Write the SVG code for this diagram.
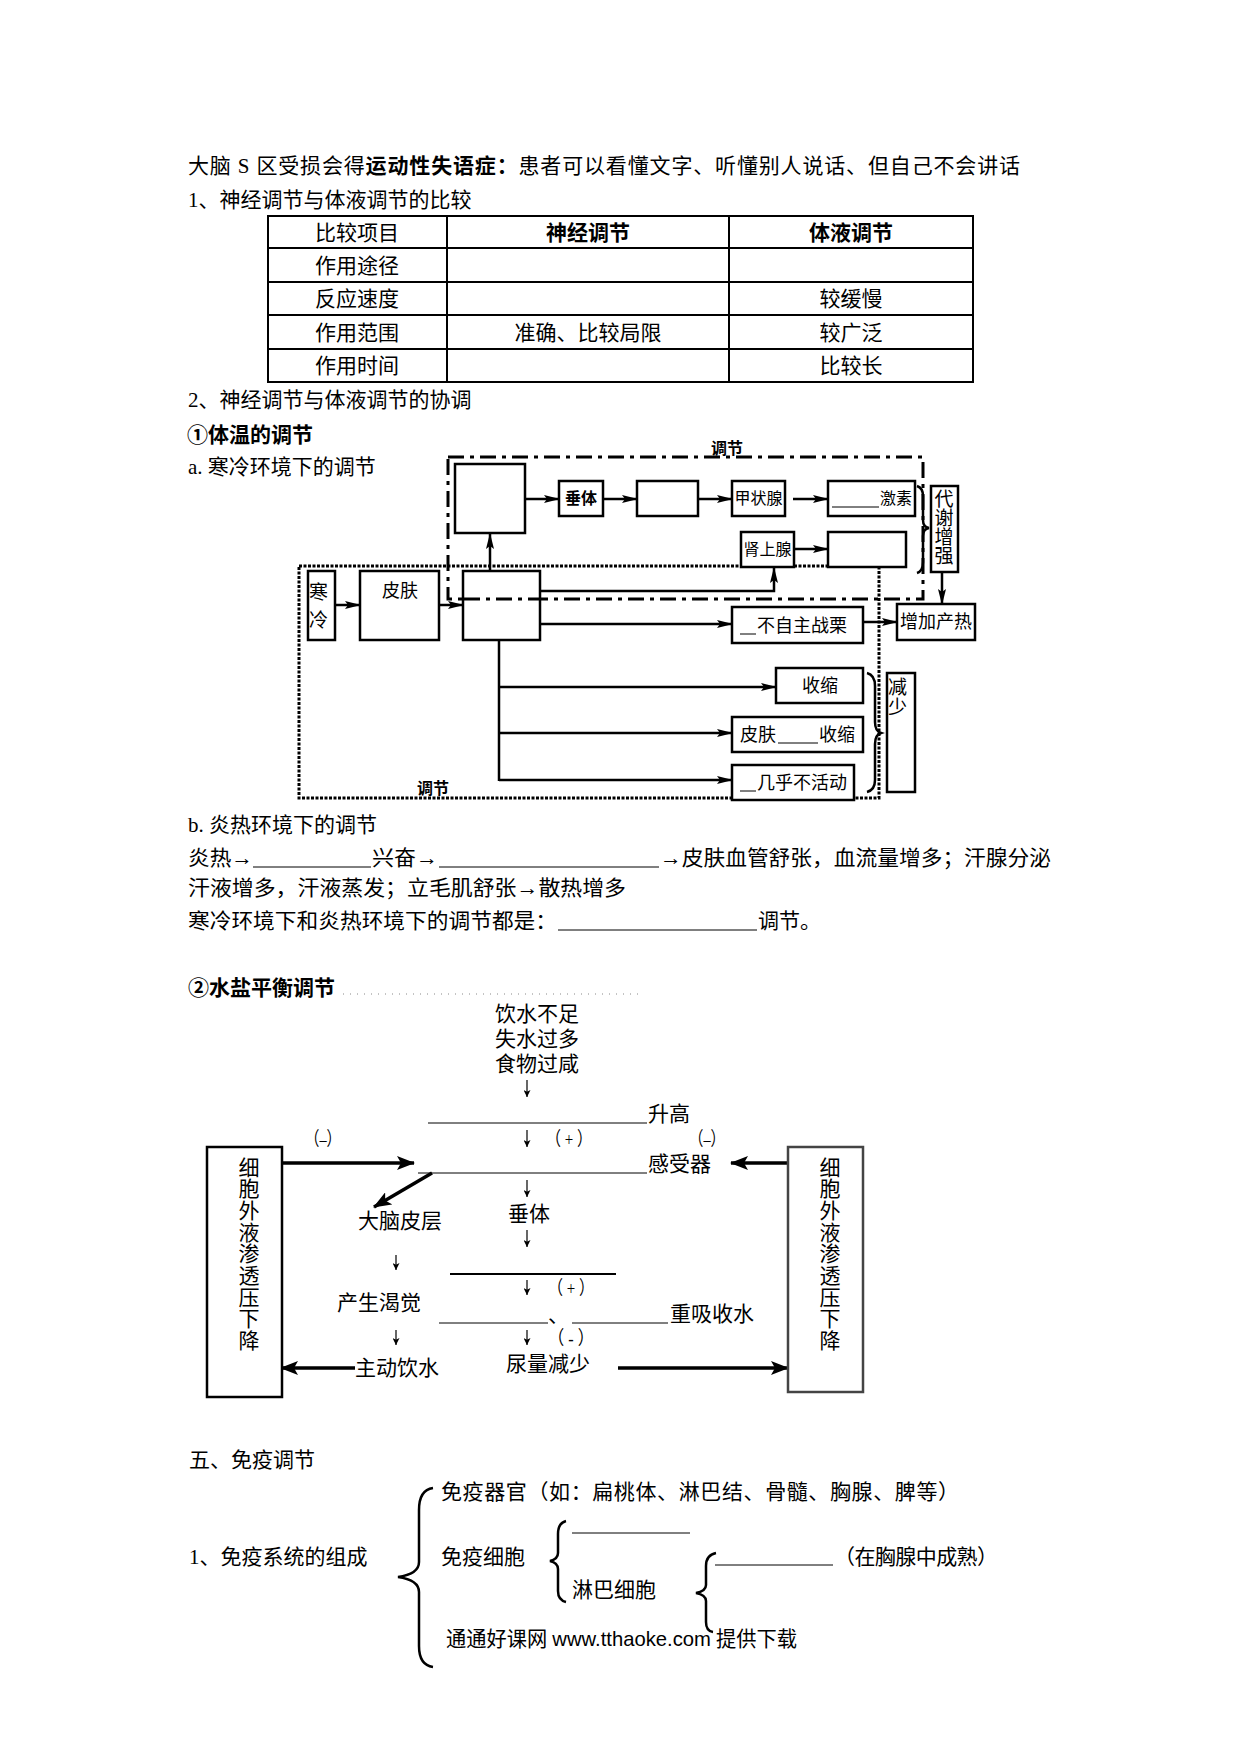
<svg xmlns="http://www.w3.org/2000/svg" width="1240" height="1754" viewBox="0 0 1240 1754">
<style>
text{font-family:"Liberation Serif","Noto Sans CJK SC",serif;font-size:21px;fill:#000}
.b{font-weight:bold}
.s16{font-size:16px}
.s18{font-size:18px}
.s19{font-size:19px}
.sg{font-size:19px}
.mid{text-anchor:middle}
.box{fill:#fff;stroke:#000;stroke-width:2.5}
.tbl{fill:none;stroke:#000;stroke-width:2}
.ln{fill:none;stroke:#000;stroke-width:2.5}
.thin{fill:none;stroke:#000;stroke-width:1}
.ar{fill:none;stroke:#000;stroke-width:2.5;marker-end:url(#ah)}
.arw{fill:none;stroke:#000;stroke-width:3.5;marker-end:url(#ab)}
.sm{fill:none;stroke:#000;stroke-width:1.2;marker-end:url(#sa)}
.brace{fill:none;stroke:#000;stroke-width:2.5}
.sans{font-family:"Liberation Sans","Noto Sans CJK SC",sans-serif}
</style>
<defs>
<marker id="ah" viewBox="0 0 16 10" refX="15" refY="5" markerWidth="16" markerHeight="10" markerUnits="userSpaceOnUse" orient="auto"><path d="M0,1 L16,5 L0,9 L3,5 z" fill="#000"/></marker>
<marker id="ab" viewBox="0 0 18 14" refX="17" refY="7" markerWidth="18" markerHeight="14" markerUnits="userSpaceOnUse" orient="auto"><path d="M0,0 L18,7 L0,14 L4,7 z" fill="#000"/></marker>
<marker id="sa" viewBox="0 0 8 8" refX="8" refY="4" markerWidth="8" markerHeight="7" markerUnits="userSpaceOnUse" orient="auto"><path d="M0,0 L8,4 L0,8 L2,4 z" fill="#000"/></marker>
</defs>
<rect width="1240" height="1754" fill="#fff"/>

<!-- header text -->
<g id="intro">
<text x="188" y="173" textLength="832" lengthAdjust="spacing">大脑 S 区受损会得<tspan class="b">运动性失语症：</tspan>患者可以看懂文字、听懂别人说话、但自己不会讲话</text>
<text x="188" y="207">1、神经调节与体液调节的比较</text>
</g>

<!-- comparison table -->
<g id="table">
<rect class="tbl" x="268" y="216" width="705" height="166"/>
<path class="tbl" d="M268,248H973M268,282H973M268,315H973M268,349H973M447,216V382M729,216V382"/>
<text class="mid" x="357" y="240">比较项目</text>
<text class="mid b" x="588" y="240">神经调节</text>
<text class="mid b" x="851" y="240">体液调节</text>
<text class="mid" x="357" y="273">作用途径</text>
<text class="mid" x="357" y="306">反应速度</text>
<text class="mid" x="851" y="306">较缓慢</text>
<text class="mid" x="357" y="340">作用范围</text>
<text class="mid" x="588" y="340">准确、比较局限</text>
<text class="mid" x="851" y="340">较广泛</text>
<text class="mid" x="357" y="373">作用时间</text>
<text class="mid" x="851" y="373">比较长</text>
</g>

<g id="section2">
<text x="188" y="407">2、神经调节与体液调节的协调</text>
<text class="b" x="187" y="442">①体温的调节</text>
<text x="188" y="474">a. 寒冷环境下的调节</text>
</g>

<!-- cold regulation: regions -->
<g id="regions">
<rect x="299" y="566" width="580" height="232" fill="none" stroke="#000" stroke-width="3" stroke-dasharray="3 1.5"/>
<rect x="448" y="457" width="475" height="142" fill="none" stroke="#000" stroke-width="3" stroke-dasharray="16 6 4 6"/>
<text class="b s16 mid" x="727" y="454">调节</text>
<text class="b s16 mid" x="433" y="794">调节</text>
</g>

<!-- cold regulation connectors -->
<g id="connectors-cold">
<line class="ar" x1="525" y1="499" x2="559" y2="499"/>
<line class="ar" x1="603" y1="499" x2="637" y2="499"/>
<line class="ar" x1="698" y1="499" x2="732" y2="499"/>
<line class="ar" x1="793" y1="499" x2="828" y2="499"/>
<line class="ar" x1="942" y1="572" x2="942" y2="604"/>
<line class="ar" x1="794" y1="549" x2="828" y2="549"/>
<line class="ar" x1="490" y1="571" x2="490" y2="534"/>
<line class="ar" x1="335" y1="605" x2="360" y2="605"/>
<line class="ar" x1="439" y1="605" x2="463" y2="605"/>
<polyline class="ar" points="540,591 774,591 774,568"/>
<line class="ar" x1="540" y1="624" x2="732" y2="624"/>
<line class="ar" x1="863" y1="622" x2="897" y2="622"/>
<line class="ln" x1="499" y1="640" x2="499" y2="781"/>
<line class="ar" x1="499" y1="687" x2="776" y2="687"/>
<line class="ar" x1="499" y1="733" x2="732" y2="733"/>
<line class="ar" x1="499" y1="780" x2="732" y2="780"/>
<path class="brace" d="M917,486 Q923,488 923,496 L923,520 Q923,527 929,528 Q923,529 923,536 L923,562 Q923,571 917,573"/>
<path class="brace" d="M867,673 Q875,675 875,686 L875,722 Q875,731 881,733 Q875,735 875,744 L875,780 Q875,790 867,792"/>
</g>

<!-- cold regulation nodes -->
<g id="boxA"><rect class="box" x="455" y="464" width="70" height="69"/></g>
<g id="chuiti"><rect class="box" x="559" y="481" width="44" height="35"/><text class="b s16 mid" x="581" y="504">垂体</text></g>
<g id="boxB"><rect class="box" x="637" y="481" width="61" height="35"/></g>
<g id="jiazhuangxian"><rect class="box" x="732" y="481" width="53" height="35"/><text class="s16 mid" x="758.5" y="504">甲状腺</text></g>
<g id="jisu"><rect class="box" x="828" y="481" width="87" height="35"/><line class="thin" x1="832" y1="507" x2="879" y2="507"/><text class="s16" x="880" y="504">激素</text></g>
<g id="shenshangxian"><rect class="box" x="741" y="532" width="53" height="35"/><text class="s16 mid" x="767.5" y="555">肾上腺</text></g>
<g id="boxD"><rect class="box" x="828" y="532" width="78" height="35"/></g>
<g id="daixie"><rect class="box" x="931" y="486" width="27" height="86"/><text class="s19 mid"><tspan x="944" y="506">代</tspan><tspan x="944" y="525">谢</tspan><tspan x="944" y="544">增</tspan><tspan x="944" y="563">强</tspan></text></g>
<g id="chanre"><rect class="box" x="897" y="604" width="78" height="36"/><text class="s18 mid" x="936" y="628">增加产热</text></g>
<g id="hanleng"><rect class="box" x="308" y="571" width="27" height="69"/><text class="s19"><tspan x="309" y="599">寒</tspan><tspan x="309" y="627">冷</tspan></text></g>
<g id="pifu"><rect class="box" x="360" y="571" width="79" height="69"/><text class="s18 mid" x="400" y="597">皮肤</text></g>
<g id="boxC"><rect class="box" x="463" y="571" width="77" height="69"/><line x1="464" y1="599" x2="539" y2="599" stroke="#000" stroke-width="3" stroke-dasharray="16 6 4 6"/></g>
<g id="zhanli"><rect class="box" x="732" y="607" width="131" height="36"/><line class="thin" x1="740" y1="634" x2="756" y2="634"/><text class="s18" x="757" y="632">不自主战栗</text></g>
<g id="shousuo"><rect class="box" x="776" y="668" width="87" height="35"/><text class="s18" x="802" y="692">收缩</text></g>
<g id="pifushousuo"><rect class="box" x="732" y="717" width="131" height="35"/><text class="s18" x="740" y="741">皮肤</text><line class="thin" x1="778" y1="743" x2="818" y2="743"/><text class="s18" x="819" y="741">收缩</text></g>
<g id="huodong"><rect class="box" x="732" y="765" width="122" height="35"/><line class="thin" x1="740" y1="791" x2="756" y2="791"/><text class="s18" x="757" y="789">几乎不活动</text></g>
<g id="jianshao"><rect class="box" x="887" y="673" width="28" height="119"/><text class="s19"><tspan x="888" y="694">减</tspan><tspan x="888" y="714">少</tspan></text></g>

<!-- hot environment -->
<g id="hot">
<text x="188" y="832">b. 炎热环境下的调节</text>
<text x="188" y="865" textLength="65" lengthAdjust="spacingAndGlyphs">炎热→</text>
<line class="thin" x1="253" y1="867" x2="371" y2="867"/>
<text x="372" y="865" textLength="66" lengthAdjust="spacingAndGlyphs">兴奋→</text>
<line class="thin" x1="439" y1="867" x2="659" y2="867"/>
<text x="660" y="865" textLength="391" lengthAdjust="spacingAndGlyphs">→皮肤血管舒张，血流量增多；汗腺分泌</text>
<text x="188" y="895" textLength="438" lengthAdjust="spacingAndGlyphs">汗液增多，汗液蒸发；立毛肌舒张→散热增多</text>
<text x="188" y="928" textLength="369" lengthAdjust="spacingAndGlyphs">寒冷环境下和炎热环境下的调节都是：</text>
<line class="thin" x1="558" y1="930" x2="757" y2="930"/>
<text x="758" y="928">调节。</text>
</g>

<g id="water-title">
<text class="b" x="188" y="995">②水盐平衡调节</text>
<line x1="343" y1="994" x2="640" y2="994" stroke="#888" stroke-width="1" stroke-dasharray="1 6"/>
</g>

<!-- water balance connectors -->
<g id="connectors-water">
<line class="sm" x1="527" y1="1080" x2="527" y2="1097"/>
<line class="thin" x1="428" y1="1123" x2="647" y2="1123"/>
<line class="sm" x1="527" y1="1130" x2="527" y2="1147"/>
<line class="thin" x1="418" y1="1173" x2="647" y2="1173"/>
<line class="arw" x1="282" y1="1163" x2="414" y2="1163"/>
<line class="arw" x1="787" y1="1163" x2="731" y2="1163"/>
<line class="arw" x1="432" y1="1173" x2="374" y2="1207"/>
<line class="sm" x1="527" y1="1180" x2="527" y2="1197"/>
<line class="sm" x1="527" y1="1230" x2="527" y2="1247"/>
<line class="sm" x1="396" y1="1255" x2="396" y2="1270"/>
<line x1="450" y1="1274" x2="616" y2="1274" stroke="#000" stroke-width="2"/>
<line class="sm" x1="527" y1="1280" x2="527" y2="1295"/>
<line class="thin" x1="439" y1="1323" x2="548" y2="1323"/>
<line class="thin" x1="572" y1="1323" x2="668" y2="1323"/>
<line class="sm" x1="396" y1="1330" x2="396" y2="1345"/>
<line class="sm" x1="527" y1="1330" x2="527" y2="1345"/>
<line class="arw" x1="355" y1="1368" x2="281" y2="1368"/>
<line class="arw" x1="618" y1="1368" x2="788" y2="1368"/>
</g>

<!-- water balance nodes -->
<g id="causes">
<text x="495" y="1021">饮水不足</text>
<text x="495" y="1046">失水过多</text>
<text x="495" y="1071">食物过咸</text>
</g>
<g id="shenggao"><text x="648" y="1121">升高</text></g>
<g id="signs">
<text class="sg" x="305" y="1146" textLength="36" lengthAdjust="spacingAndGlyphs">（–）</text>
<text class="sg" x="546" y="1146" textLength="46" lengthAdjust="spacingAndGlyphs">（ + ）</text>
<text class="sg" x="689" y="1146" textLength="36" lengthAdjust="spacingAndGlyphs">（–）</text>
<text class="sg" x="548" y="1295" textLength="46" lengthAdjust="spacingAndGlyphs">（ + ）</text>
<text class="sg" x="548" y="1345" textLength="46" lengthAdjust="spacingAndGlyphs">（ - ）</text>
</g>
<g id="ganshouqi"><text x="648" y="1171">感受器</text></g>
<g id="danaopiceng"><text x="358" y="1228">大脑皮层</text></g>
<g id="chuiti2"><text x="508" y="1221">垂体</text></g>
<g id="kejue"><text x="337" y="1310">产生渴觉</text></g>
<g id="chongxishou"><text x="548" y="1322">、</text><text x="670" y="1321">重吸收水</text></g>
<g id="yinshui"><text x="355" y="1375">主动饮水</text></g>
<g id="niaoliang"><text x="506" y="1371">尿量减少</text></g>
<g id="leftbox">
<rect x="207" y="1147" width="75" height="250" fill="#fff" stroke="#000" stroke-width="2.5"/>
<text class="mid"><tspan x="249" y="1175">细</tspan><tspan x="249" y="1196">胞</tspan><tspan x="249" y="1218">外</tspan><tspan x="249" y="1240">液</tspan><tspan x="249" y="1261">渗</tspan><tspan x="249" y="1283">透</tspan><tspan x="249" y="1305">压</tspan><tspan x="249" y="1326">下</tspan><tspan x="249" y="1348">降</tspan></text>
</g>
<g id="rightbox">
<rect x="788" y="1147" width="75" height="245" fill="#fff" stroke="#444" stroke-width="2.5"/>
<text class="mid"><tspan x="830" y="1175">细</tspan><tspan x="830" y="1196">胞</tspan><tspan x="830" y="1218">外</tspan><tspan x="830" y="1240">液</tspan><tspan x="830" y="1261">渗</tspan><tspan x="830" y="1283">透</tspan><tspan x="830" y="1305">压</tspan><tspan x="830" y="1326">下</tspan><tspan x="830" y="1348">降</tspan></text>
</g>

<!-- immunity -->
<g id="immunity">
<text x="189" y="1467">五、免疫调节</text>
<text x="189" y="1564">1、免疫系统的组成</text>
<path class="brace" d="M433,1488 Q419,1490 419,1510 L419,1562 Q419,1574 398,1577 Q419,1580 419,1592 L419,1646 Q419,1665 433,1667"/>
<text x="441" y="1499" textLength="518" lengthAdjust="spacing">免疫器官（如：扁桃体、淋巴结、骨髓、胸腺、脾等）</text>
<text x="441" y="1564">免疫细胞</text>
<path class="brace" d="M566,1521 Q558,1523 558,1534 L558,1553 Q558,1559 550,1561 Q558,1563 558,1569 L558,1591 Q558,1600 566,1602"/>
<line class="thin" x1="572" y1="1533" x2="690" y2="1533"/>
<text x="572" y="1597">淋巴细胞</text>
<path class="brace" d="M716,1553 Q706,1555 706,1566 L706,1585 Q706,1591 696,1593 Q706,1595 706,1601 L706,1622 Q706,1631 713,1632"/>
<line class="thin" x1="715" y1="1565" x2="833" y2="1565"/>
<text x="834" y="1564" textLength="164" lengthAdjust="spacing">（在胸腺中成熟）</text>
<text x="446" y="1646" textLength="351" lengthAdjust="spacingAndGlyphs">通通好课网 <tspan class="sans">www.tthaoke.com</tspan> 提供下载</text>
</g>
</svg>
